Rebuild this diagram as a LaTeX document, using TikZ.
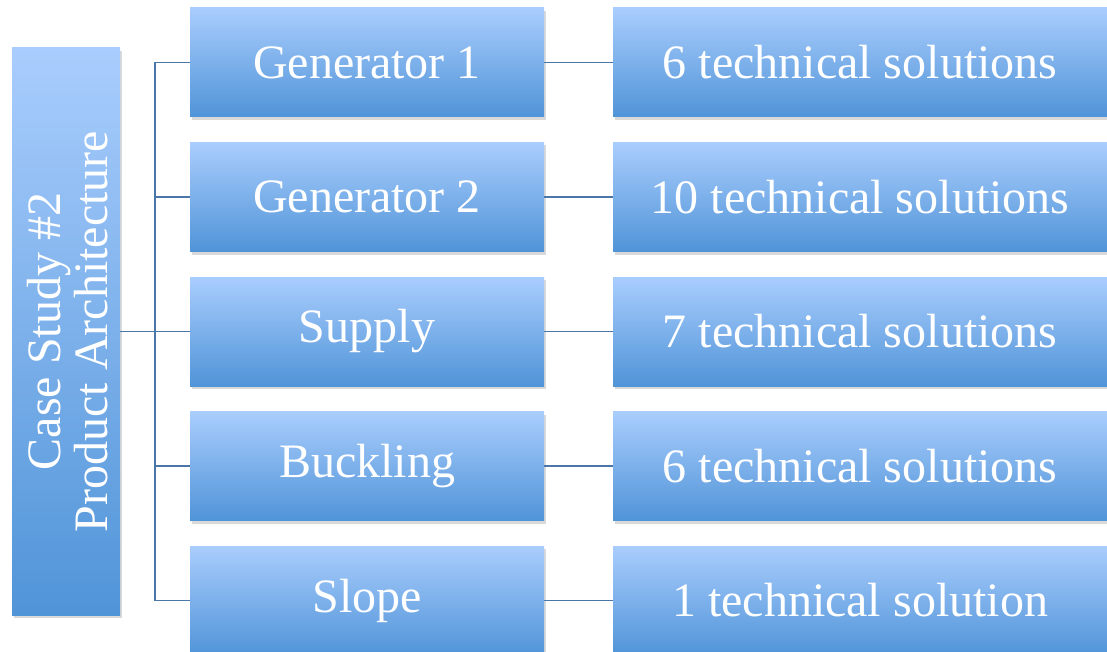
\documentclass[tikz,border=0pt]{standalone}
\usepackage{fontspec}
\setmainfont{Liberation Serif}
\usetikzlibrary{shadows}
\definecolor{gtop}{RGB}{169,205,253}
\definecolor{gbot}{RGB}{80,148,216}
\definecolor{linec}{RGB}{74,118,168}
\tikzset{
  box/.style={rectangle, top color=gtop, bottom color=gbot, draw=none,
    minimum height=109pt, text=white, font=\fontsize{48}{50}\selectfont,
    inner sep=0pt,
    drop shadow={shadow xshift=2pt, shadow yshift=-3pt, opacity=0.25, fill=black!60}},
  midbox/.style={box, minimum width=354pt},
  rightbox/.style={box, minimum width=494pt},
  conn/.style={draw=linec, line width=1.2pt}
}
\begin{document}
\begin{tikzpicture}[x=1pt,y=1pt]
\useasboundingbox (0,0) rectangle (1107,-652);
% left box
\node[box, minimum width=108pt, minimum height=567pt] (L) at (66,-331.5) {};
\node[text=white, rotate=90, align=center, font=\fontsize{48}{47}\selectfont] (Lt) at (68,-331.5) {Case Study \#2\\Product Architecture};
% middle boxes
\node[midbox] (m1) at (367,-62.5) {Generator 1};
\node[midbox] (m2) at (367,-197) {Generator 2};
\node[midbox] (m3) at (367,-331.5) {Supply};
\node[midbox] (m4) at (367,-466) {Buckling};
\node[midbox] (m5) at (367,-600.5) {Slope};
% right boxes
\node[rightbox] (r1) at (860,-62.5) {6 technical solutions};
\node[rightbox] (r2) at (860,-197) {10 technical solutions};
\node[rightbox] (r3) at (860,-331.5) {7 technical solutions};
\node[rightbox] (r4) at (860,-466) {6 technical solutions};
\node[rightbox] (r5) at (860,-600.5) {1 technical solution};
% connectors
\coordinate (j) at (155,-331.5);
\draw[conn] (L.east) -- (j);
\draw[conn] (m1.west) -| (j);
\draw[conn] (m5.west) -| (j);
\draw[conn] (m2.west) -- (m2.west -| j);
\draw[conn] (m3.west) -- (j);
\draw[conn] (m4.west) -- (m4.west -| j);
\foreach \i in {1,...,5} {\draw[conn] (m\i.east) -- (r\i.west);}
\end{tikzpicture}
\end{document}
